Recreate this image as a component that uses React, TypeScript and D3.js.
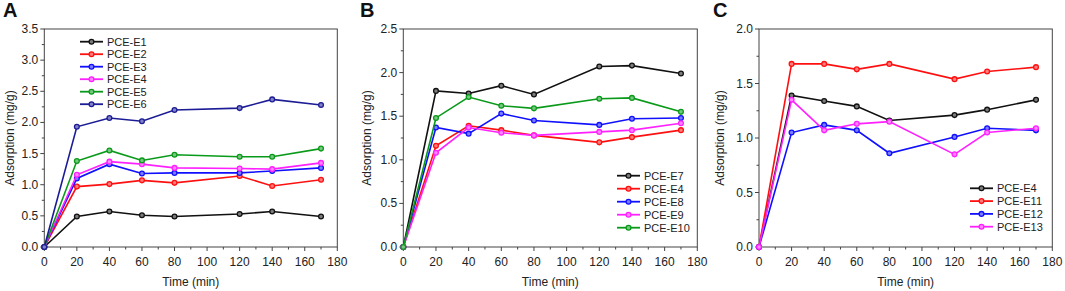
import React from "react";
import * as d3 from "d3";

const times = [0, 20, 40, 60, 80, 120, 140, 170];
const xTicks = [0, 20, 40, 60, 80, 100, 120, 140, 160, 180];

// Panel A
const aNames = ["PCE-E1", "PCE-E2", "PCE-E3", "PCE-E4", "PCE-E5", "PCE-E6"];
const aE1 = [0, 0.49, 0.57, 0.51, 0.49, 0.53, 0.57, 0.49];
const aE2 = [0, 0.97, 1.01, 1.07, 1.03, 1.14, 0.98, 1.08];
const aE3 = [0, 1.1, 1.33, 1.18, 1.19, 1.19, 1.22, 1.27];
const aE4 = [0, 1.16, 1.37, 1.33, 1.27, 1.26, 1.25, 1.35];
const aE5 = [0, 1.38, 1.55, 1.39, 1.48, 1.45, 1.45, 1.58];
const aE6 = [0, 1.93, 2.07, 2.02, 2.2, 2.23, 2.37, 2.28];
const aYTicks = [0, 0.5, 1.0, 1.5, 2.0, 2.5, 3.0, 3.5];

// Panel B
const bNames = ["PCE-E7", "PCE-E4", "PCE-E8", "PCE-E9", "PCE-E10"];
const bE7 = [0, 1.79, 1.76, 1.85, 1.75, 2.07, 2.08, 1.99];
const bE4 = [0, 1.16, 1.39, 1.34, 1.28, 1.2, 1.26, 1.34];
const bE8 = [0, 1.37, 1.3, 1.53, 1.45, 1.4, 1.47, 1.48];
const bE9 = [0, 1.08, 1.37, 1.31, 1.28, 1.32, 1.34, 1.42];
const bE10 = [0, 1.48, 1.72, 1.62, 1.59, 1.7, 1.71, 1.55];
const bYTicks = [0, 0.5, 1.0, 1.5, 2.0, 2.5];

// Panel C
const cNames = ["PCE-E4", "PCE-E11", "PCE-E12", "PCE-E13"];
const cE4 = [0, 1.39, 1.34, 1.29, 1.16, 1.21, 1.26, 1.35];
const cE11 = [0, 1.68, 1.68, 1.63, 1.68, 1.54, 1.61, 1.65];
const cE12 = [0, 1.05, 1.12, 1.07, 0.86, 1.01, 1.09, 1.07];
const cE13 = [0, 1.35, 1.07, 1.13, 1.15, 0.85, 1.05, 1.09];
const cYTicks = [0, 0.5, 1.0, 1.5, 2.0];

const BLACK = "#111111";
const RED = "#ff1010";
const BLUE = "#1010ff";
const MAGENTA = "#ff20ff";
const GREEN = "#0a9a1a";
const NAVY = "#1c1c96";

const FONT = "Liberation Sans, Arial, sans-serif";
const AXIS = "#444";

type Series = { name: string; values: number[]; color: string };

type PanelProps = {
  letter: string;
  left: number; // x of plot left
  right: number;
  top: number;
  bottom: number;
  yMax: number;
  yTicks: number[];
  series: Series[];
  legendX: number; // line start
  legendY: number; // first row y
  legendDy: number;
  offsetX: number;
};

function Panel(p: PanelProps) {
  const x = d3.scaleLinear().domain([0, 180]).range([p.left, p.right]);
  const y = d3.scaleLinear().domain([0, p.yMax]).range([p.bottom, p.top]);
  const line = d3
    .line<number>()
    .x((_, i) => x(times[i]))
    .y((d) => y(d));
  const minorX = d3.range(10, 180, 20);
  const minorY = d3.range(0.25, p.yMax, 0.5);
  const fmt = d3.format(".1f");
  const lighten = (c: string) => d3.interpolateRgb(c, "#ffffff")(0.45);
  return (
    <g>
      <text x={p.offsetX + 3} y={17} fontFamily={FONT} fontWeight="bold" fontSize={20} fill="#111">
        {p.letter}
      </text>
      {/* frame */}
      <rect x={p.left} y={p.top} width={p.right - p.left} height={p.bottom - p.top} fill="none" stroke={AXIS} strokeWidth={1} />
      {/* x ticks */}
      {xTicks.map((t) => (
        <g key={"xt" + t}>
          <line x1={x(t)} x2={x(t)} y1={p.bottom} y2={p.bottom + 4} stroke={AXIS} />
          <text x={x(t)} y={266} textAnchor="middle" fontFamily={FONT} fontSize={12} fill="#222">
            {t}
          </text>
        </g>
      ))}
      {minorX.map((t) => (
        <line key={"xm" + t} x1={x(t)} x2={x(t)} y1={p.bottom} y2={p.bottom + 2.5} stroke={AXIS} />
      ))}
      {/* y ticks */}
      {p.yTicks.map((t) => (
        <g key={"yt" + t}>
          <line x1={p.left - 4} x2={p.left} y1={y(t)} y2={y(t)} stroke={AXIS} />
          <text x={p.left - 6} y={y(t) + 4} textAnchor="end" fontFamily={FONT} fontSize={12} fill="#222">
            {fmt(t)}
          </text>
        </g>
      ))}
      {minorY.map((t) => (
        <line key={"ym" + t} x1={p.left - 2.5} x2={p.left} y1={y(t)} y2={y(t)} stroke={AXIS} />
      ))}
      <text x={(p.left + p.right) / 2} y={286} textAnchor="middle" fontFamily={FONT} fontSize={12} fill="#222">
        Time (min)
      </text>
      <text
        transform={`translate(${p.offsetX + 14},${(p.top + p.bottom) / 2}) rotate(-90)`}
        textAnchor="middle"
        fontFamily={FONT}
        fontSize={12}
        fill="#222"
      >
        Adsorption (mg/g)
      </text>
      {/* series */}
      {p.series.map((s) => (
        <g key={s.name + s.color}>
          <path d={line(s.values) || ""} fill="none" stroke={s.color} strokeWidth={1.6} />
          {s.values.map((v, i) => (
            <circle key={i} cx={x(times[i])} cy={y(v)} r={2.4} fill={lighten(s.color)} stroke={s.color} strokeWidth={1.3} />
          ))}
        </g>
      ))}
      {/* legend */}
      {p.series.map((s, i) => {
        const ly = p.legendY + i * p.legendDy;
        return (
          <g key={"lg" + s.name + s.color}>
            <line x1={p.legendX} x2={p.legendX + 23} y1={ly} y2={ly} stroke={s.color} strokeWidth={1.8} />
            <circle cx={p.legendX + 11.5} cy={ly} r={2.4} fill={lighten(s.color)} stroke={s.color} strokeWidth={1.3} />
            <text x={p.legendX + 27} y={ly + 4} fontFamily={FONT} fontSize={11} fill="#222">
              {s.name}
            </text>
          </g>
        );
      })}
    </g>
  );
}

export default function App() {
  const aColors = [BLACK, RED, BLUE, MAGENTA, GREEN, NAVY];
  const aVals = [aE1, aE2, aE3, aE4, aE5, aE6];
  const bColors = [BLACK, RED, BLUE, MAGENTA, GREEN];
  const bVals = [bE7, bE4, bE8, bE9, bE10];
  const cColors = [BLACK, RED, BLUE, MAGENTA];
  const cVals = [cE4, cE11, cE12, cE13];
  const mk = (names: string[], vals: number[][], cols: string[]) =>
    names.map((n, i) => ({ name: n, values: vals[i], color: cols[i] }));
  return (
    <div style={{ position: "absolute", left: 0, top: 0 }}>
      <svg width={1065} height={291} style={{ display: "block", background: "#fff" }}>
        <Panel
          letter="A"
          offsetX={0}
          left={44.3}
          right={337.3}
          top={29}
          bottom={247}
          yMax={3.5}
          yTicks={aYTicks}
          series={mk(aNames, aVals, aColors)}
          legendX={80}
          legendY={41.7}
          legendDy={12.5}
        />
        <Panel
          letter="B"
          offsetX={357}
          left={403.3}
          right={697.3}
          top={29}
          bottom={247}
          yMax={2.5}
          yTicks={bYTicks}
          series={mk(bNames, bVals, bColors)}
          legendX={617}
          legendY={175.7}
          legendDy={13}
        />
        <Panel
          letter="C"
          offsetX={710}
          left={759}
          right={1052.3}
          top={29}
          bottom={247}
          yMax={2.0}
          yTicks={cYTicks}
          series={mk(cNames, cVals, cColors)}
          legendX={970}
          legendY={188.3}
          legendDy={12.8}
        />
      </svg>
    </div>
  );
}
